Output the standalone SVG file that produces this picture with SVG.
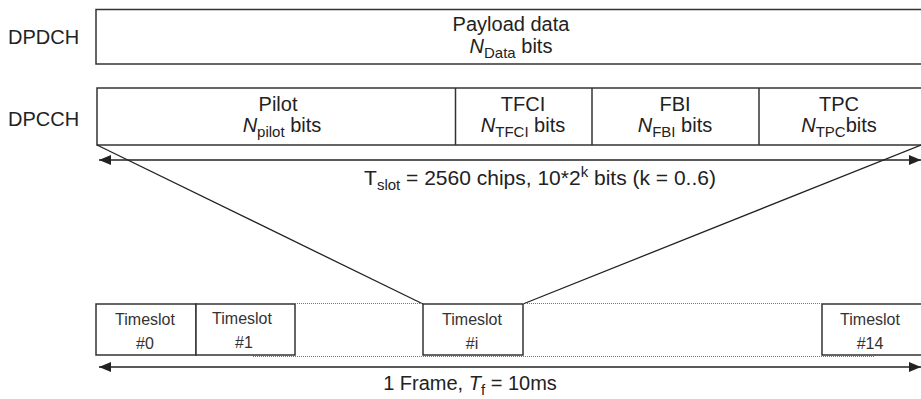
<svg xmlns="http://www.w3.org/2000/svg" width="921" height="399" viewBox="0 0 921 399">
<style>
text{font-family:"Liberation Sans",Arial,sans-serif;fill:#222;}
.lbl{font-size:20px;}
.mid{text-anchor:middle;}
.ts{font-size:16px;text-anchor:middle;fill:#333;}
.box{fill:#fff;stroke:#333;stroke-width:1.5;}
.ln{stroke:#222;stroke-width:1.3;fill:none;}
.dot{stroke:#777;stroke-width:1;stroke-dasharray:1 1;fill:none;}
.sub{font-size:15px;}
.it{font-style:italic;}
</style>
<defs>
<marker id="ah" viewBox="0 0 12 10" refX="12" refY="5" markerWidth="12" markerHeight="10" markerUnits="userSpaceOnUse" orient="auto-start-reverse">
<path d="M0,0 L12,5 L0,10 Z" fill="#222"/>
</marker>
</defs>
<g id="dpdch">
<text class="lbl" x="8" y="44">DPDCH</text>
<rect class="box" x="96" y="9.5" width="830" height="54.5"/>
<text class="lbl mid" x="511" y="31">Payload data</text>
<text class="lbl mid" x="511" y="53"><tspan class="it">N</tspan><tspan class="sub" dy="5">Data</tspan><tspan dy="-5"> bits</tspan></text>
</g>
<g id="dpcch">
<text class="lbl" x="8" y="126">DPCCH</text>
<rect class="box" x="97" y="88" width="829" height="57"/>
<line class="box" x1="455.5" y1="88" x2="455.5" y2="145"/>
<line class="box" x1="592" y1="88" x2="592" y2="145"/>
<line class="box" x1="759" y1="88" x2="759" y2="145"/>
<text class="lbl mid" x="278" y="111">Pilot</text>
<text class="lbl mid" x="282" y="132"><tspan class="it">N</tspan><tspan class="sub" dy="5">pilot</tspan><tspan dy="-5"> bits</tspan></text>
<text class="lbl mid" x="523" y="111">TFCI</text>
<text class="lbl mid" x="523" y="132"><tspan class="it">N</tspan><tspan class="sub" dy="5">TFCI</tspan><tspan dy="-5"> bits</tspan></text>
<text class="lbl mid" x="675" y="111">FBI</text>
<text class="lbl mid" x="675" y="132"><tspan class="it">N</tspan><tspan class="sub" dy="5">FBI</tspan><tspan dy="-5"> bits</tspan></text>
<text class="lbl mid" x="839" y="111">TPC</text>
<text class="lbl mid" x="839" y="132"><tspan class="it">N</tspan><tspan class="sub" dy="5">TPC</tspan><tspan dy="-5">bits</tspan></text>
</g>
<g id="slot0">
<rect class="box" x="96" y="304" width="100" height="51"/>
<text class="ts" x="145" y="325">Timeslot</text>
<text class="ts" x="145" y="349">#0</text>
</g>
<g id="slot1">
<rect class="box" x="196" y="304" width="99" height="51"/>
<text class="ts" x="242" y="324">Timeslot</text>
<text class="ts" x="244" y="348">#1</text>
</g>
<g id="sloti">
<rect class="box" x="423" y="304" width="100" height="51"/>
<text class="ts" x="472" y="325">Timeslot</text>
<text class="ts" x="472" y="349">#i</text>
</g>
<g id="slot14">
<rect class="box" x="822" y="304" width="104" height="51"/>
<text class="ts" x="870" y="325">Timeslot</text>
<text class="ts" x="870" y="349">#14</text>
</g>
<g id="connectors">
<line class="ln" x1="97" y1="145" x2="423" y2="304"/>
<line class="ln" x1="523" y1="304" x2="921" y2="145"/>
<line class="dot" x1="295" y1="303.5" x2="423" y2="303.5"/>
<line class="dot" x1="523" y1="303.5" x2="822" y2="303.5"/>
<line class="dot" x1="253" y1="356.5" x2="875" y2="356.5"/>
<line class="ln" x1="99" y1="160" x2="921" y2="160" marker-start="url(#ah)" marker-end="url(#ah)"/>
<line class="ln" x1="99" y1="367" x2="921" y2="367" marker-start="url(#ah)" marker-end="url(#ah)"/>
<text class="lbl mid" x="540" y="185" style="font-size:21px">T<tspan class="sub" dy="5">slot</tspan><tspan dy="-5"> = 2560 chips, 10*2</tspan><tspan class="sub" dy="-8">k</tspan><tspan dy="8"> bits (k = 0..6)</tspan></text>
<text class="lbl mid" x="470" y="390">1 Frame, <tspan class="it">T</tspan><tspan class="sub" dy="5">f</tspan><tspan dy="-5"> = 10ms</tspan></text>
</g>
</svg>
